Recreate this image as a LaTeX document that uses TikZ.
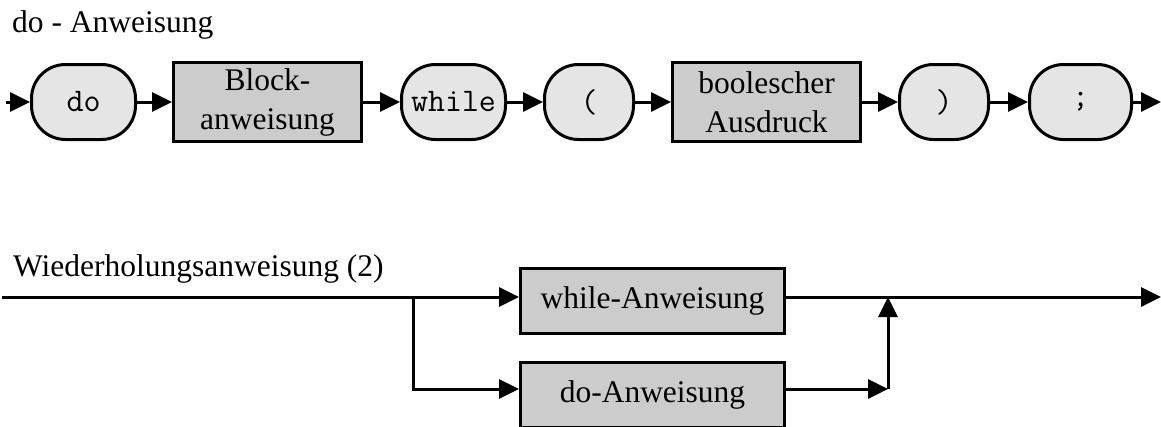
\documentclass[tikz,border=0pt]{standalone}
\usepackage{fontspec}
\setmainfont{Liberation Serif}
\usetikzlibrary{arrows.meta}
\definecolor{termfill}{gray}{0.9}
\definecolor{nontermfill}{gray}{0.8}
\begin{document}
\begin{tikzpicture}[x=1pt,y=-1pt,
  term/.style={draw, line width=3pt, fill=termfill, rounded corners=34pt,
    minimum height=75pt, inner sep=0pt,
    font=\ttfamily\fontsize{33}{38}\selectfont},
  nonterm/.style={draw, line width=3pt, fill=nontermfill, inner sep=0pt,
    align=center, font=\fontsize{31.5}{39}\selectfont},
  heading/.style={anchor=base west, inner sep=0pt,
    font=\fontsize{31.5}{38}\selectfont},
  conn/.style={line width=3pt, -{Triangle[length=20pt,width=19pt]}}]
\useasboundingbox (0,0) rectangle (1161,426);

% --- do statement -------------------------------------------------
\node[heading] (t1) at (12,32) {do - Anweisung};

\coordinate (s1) at (6,102);
\coordinate (e1) at (1161,102);
\node[term, minimum width=104pt] (do) at (83.5,102) {do};
\node[nonterm, minimum width=188pt, minimum height=79pt] (blk) at (267.5,102) {Block-\\anweisung};
\node[term, minimum width=104pt] (wh) at (453.5,102) {while};
\node[term, minimum width=89pt] (lp) at (589,102) {(};
\node[nonterm, minimum width=188pt, minimum height=79pt] (bool) at (766.5,102) {boolescher\\Ausdruck};
\node[term, minimum width=89pt] (rp) at (944,102) {)};
\node[term, minimum width=102pt] (semi) at (1080.5,102) {;};

\draw[conn] (s1) -- (do);
\draw[conn] (do) -- (blk);
\draw[conn] (blk) -- (wh);
\draw[conn] (wh) -- (lp);
\draw[conn] (lp) -- (bool);
\draw[conn] (bool) -- (rp);
\draw[conn] (rp) -- (semi);
\draw[conn] (semi) -- (e1);

% --- loop statements ----------------------------------------------
\node[heading] (t2) at (13,276) {Wiederholungsanweisung (2)};

\node[nonterm, minimum width=264pt, minimum height=65pt] (wa) at (652.5,301) {while-Anweisung};
\node[nonterm, minimum width=264pt, minimum height=65pt] (da) at (652.5,395) {do-Anweisung};

\coordinate (in) at (2,297);
\coordinate (split) at (413,297);
\coordinate (lo) at (413,389);
\coordinate (jn) at (888,389);
\coordinate (out) at (1161,297);

\draw[conn] (in) -- (in -| wa.west);
\draw[conn] (split) -- (lo) -- (lo -| da.west);
\draw[conn] (wa.east |- in) -- (out);
\draw[conn] (da.east |- jn) -- (jn);
\draw[conn] (jn) -- (jn |- in);
\end{tikzpicture}
\end{document}
